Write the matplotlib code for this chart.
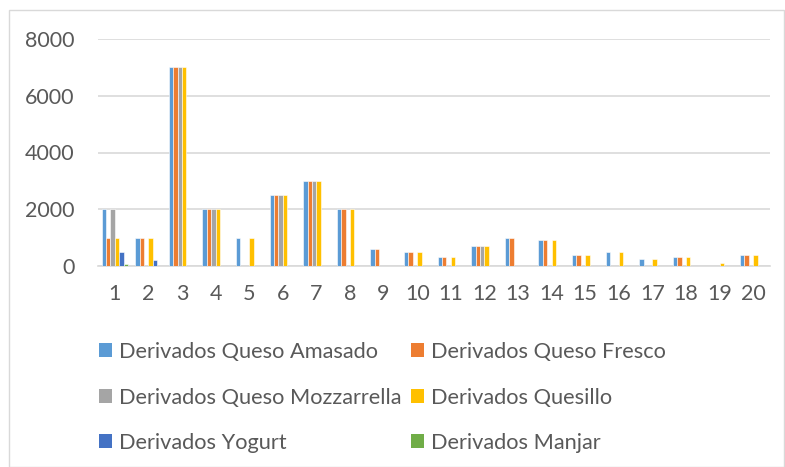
import matplotlib
matplotlib.use("Agg")
import matplotlib.pyplot as plt
import numpy as np
from matplotlib.patches import Rectangle, Patch

categories = [str(i) for i in range(1, 21)]
series_names = ["Derivados Queso Amasado", "Derivados Queso Fresco",
                "Derivados Queso Mozzarrella", "Derivados Quesillo",
                "Derivados Yogurt", "Derivados Manjar"]
amasado    = [2000, 1000, 7000, 2000, 1000, 2500, 3000, 2000, 600, 500, 300, 700, 1000, 900, 400, 500, 250, 300, 0, 400]
fresco     = [1000, 1000, 7000, 2000, 0, 2500, 3000, 2000, 600, 500, 300, 700, 1000, 900, 400, 0, 0, 300, 0, 400]
mozzarella = [2000, 0, 7000, 2000, 0, 2500, 3000, 0, 0, 0, 0, 700, 0, 0, 0, 0, 0, 0, 0, 0]
quesillo   = [1000, 1000, 7000, 2000, 1000, 2500, 3000, 2000, 0, 500, 300, 700, 0, 900, 400, 500, 250, 300, 100, 400]
yogurt     = [500, 200, 0, 0, 0, 0, 0, 0, 0, 0, 0, 0, 0, 0, 0, 0, 0, 0, 0, 0]
manjar     = [80, 0, 0, 0, 0, 0, 0, 0, 0, 0, 0, 0, 0, 0, 0, 0, 0, 0, 0, 0]
yticks = [0, 2000, 4000, 6000, 8000]

series = [amasado, fresco, mozzarella, quesillo, yogurt, manjar]
colors = ["#5B9BD5", "#ED7D31", "#A5A5A5", "#FFC000", "#4472C4", "#70AD47"]

plt.rcParams['font.family'] = ['Lato', 'DejaVu Sans']
txt = "#595959"
grid = "#D9D9D9"

W, H = 785, 467
fig = plt.figure(figsize=(W / 100, H / 100), dpi=100)
ax = fig.add_axes([98 / W, (H - 266) / H, (770 - 98) / W, (266 - 39) / H])

x = np.arange(len(categories))
n = len(series)
group = 0.79
bw = group / n
for i, (vals, c) in enumerate(zip(series, colors)):
    ax.bar(x - group / 2 + bw * (i + 0.5), vals, width=bw, color=c,
           edgecolor="white", linewidth=0.4, zorder=3)

ax.set_xlim(-0.5, len(categories) - 0.5)
ax.set_ylim(0, 8000)
ax.set_yticks(yticks)
ax.set_yticklabels([str(v) for v in yticks])
ax.set_xticks(x)
ax.set_xticklabels(categories)
ax.yaxis.grid(True, color=grid, linewidth=1.2, zorder=0)
ax.set_axisbelow(True)
for s in ["top", "right", "left"]:
    ax.spines[s].set_visible(False)
ax.spines["bottom"].set_color(grid)
ax.spines["bottom"].set_linewidth(1.2)
ax.tick_params(axis="both", length=0, labelsize=15.5, labelcolor=txt)
ax.tick_params(axis="y", pad=17)
ax.tick_params(axis="x", pad=13)

handles = [Patch(facecolor=c) for c in colors]
order = [0, 2, 4, 1, 3, 5]
leg = fig.legend([handles[i] for i in order], [series_names[i] for i in order],
                 ncol=2, loc="upper left", bbox_to_anchor=(99 / W, 1 - 342 / H),
                 frameon=False, fontsize=15.7, handlelength=0.6, handleheight=0.6,
                 handletextpad=0.3, columnspacing=0.45, labelspacing=1.17,
                 borderaxespad=0, borderpad=0)
for t in leg.get_texts():
    t.set_color(txt)

fig.patches.append(Rectangle((9 / W, 0), (784 - 9) / W, (H - 10) / H,
                             transform=fig.transFigure, fill=False,
                             edgecolor=grid, linewidth=1.0))

fig.savefig("out.png", dpi=100)
